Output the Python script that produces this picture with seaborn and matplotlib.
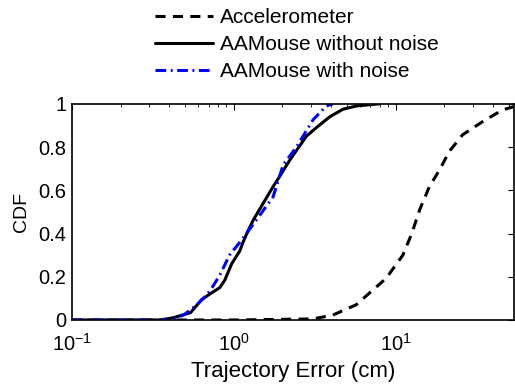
import numpy as np
import pandas as pd
import seaborn as sns
import matplotlib
matplotlib.use("Agg")
import matplotlib.pyplot as plt

# CDF curves (x in cm, y = CDF)
acc_x = [0.1, 1.0, 3.1, 4.1, 5.7, 8.75, 11.1, 12.6, 14.1, 16.2, 18.7, 21.5, 26.0, 34.6, 45.9, 54.0]
acc_y = [0.0, 0.0, 0.005, 0.023, 0.07, 0.193, 0.30, 0.40, 0.51, 0.617, 0.694, 0.78, 0.857, 0.918, 0.972, 0.987]

clean_x = [0.1, 0.35, 0.42, 0.54, 0.63, 0.71, 0.82, 0.88, 0.97, 1.09, 1.14, 1.22, 1.32, 1.52, 1.75,
           1.92, 2.22, 2.81, 3.24, 3.92, 4.73, 5.72, 7.94]
clean_y = [0.0, 0.0, 0.01, 0.034, 0.093, 0.12, 0.15, 0.185, 0.26, 0.32, 0.36, 0.41, 0.463, 0.54, 0.617,
           0.664, 0.74, 0.85, 0.89, 0.94, 0.975, 0.99, 1.0]

noise_x = [0.1, 0.40, 0.49, 0.59, 0.68, 0.74, 0.82, 0.94, 1.14, 1.38, 1.75, 2.02, 2.44, 3.09, 3.73, 4.1]
noise_y = [0.0, 0.0, 0.023, 0.07, 0.116, 0.154, 0.208, 0.30, 0.378, 0.463, 0.57, 0.718, 0.80, 0.926, 0.99, 1.0]

labels = ["Accelerometer", "AAMouse without noise", "AAMouse with noise"]

df = pd.concat([
    pd.DataFrame({"x": acc_x, "y": acc_y, "method": labels[0]}),
    pd.DataFrame({"x": clean_x, "y": clean_y, "method": labels[1]}),
    pd.DataFrame({"x": noise_x, "y": noise_y, "method": labels[2]}),
])

sns.set_style("white")
plt.rcParams["font.family"] = ["Liberation Sans", "DejaVu Sans"]
plt.rcParams["mathtext.fontset"] = "custom"
plt.rcParams["mathtext.rm"] = "Liberation Sans"
plt.rcParams["text.color"] = "black"
plt.rcParams["axes.labelcolor"] = "black"
plt.rcParams["xtick.color"] = "black"
plt.rcParams["ytick.color"] = "black"

fig = plt.figure(figsize=(5.15, 3.86), dpi=100)
ax = fig.add_axes([0.14, 0.171, 0.858, 0.56])

styles = {labels[0]: ("black", (0, (3.3, 2.4))),
          labels[1]: ("black", "-"),
          labels[2]: ("blue", (0, (3.5, 1.5, 0.6, 1.5)))}
for lab in labels:
    c, ls = styles[lab]
    sns.lineplot(data=df[df["method"] == lab], x="x", y="y", ax=ax, color=c,
                 linestyle=ls, linewidth=2.2, label=lab, estimator=None, sort=False)

ax.set_xscale("log")
ax.set_xlim(0.1, 54)
ax.set_ylim(0, 1)
ax.set_yticks([0, 0.2, 0.4, 0.6, 0.8, 1])
ax.set_yticklabels(["0", "0.2", "0.4", "0.6", "0.8", "1"])
ax.set_xlabel("Trajectory Error (cm)", fontsize=16, labelpad=5)
ax.set_ylabel("CDF", fontsize=14, labelpad=6)
ax.tick_params(which="both", direction="in", top=True, right=True, labelsize=14.5,
               color="black", labelcolor="black")
ax.tick_params(which="major", length=4, width=0.8)
ax.tick_params(which="minor", length=2, width=0.6)
ax.tick_params(axis="x", pad=9)
ax.tick_params(axis="y", pad=4)
for s in ax.spines.values():
    s.set_color("black")
    s.set_linewidth(1.2)

ax.legend(loc="lower center", bbox_to_anchor=(0.509, 1.105), frameon=False, fontsize=15,
          handlelength=2.8, labelspacing=0.39, handletextpad=0.34, borderaxespad=0, borderpad=0)

fig.savefig("out.png", dpi=100)
